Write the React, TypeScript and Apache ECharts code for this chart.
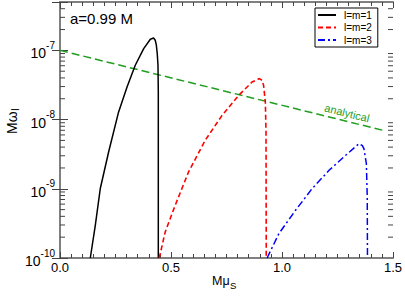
import React, { useEffect, useRef } from "react";
import * as echarts from "echarts";

const FONT = "'Liberation Sans', Arial, sans-serif";

// l=m=1 (black, solid)
const lm1: [number, number][] = [
  [0.1365, 1e-10], [0.159, 2.97e-10], [0.1815, 1.01e-9], [0.219, 3.4e-9],
  [0.264, 1.29e-8], [0.302, 2.96e-8], [0.339, 6.1e-8], [0.377, 1.06e-7],
  [0.407, 1.45e-7], [0.4216, 1.51e-7], [0.429, 1.4e-7], [0.434, 1.19e-7],
  [0.438, 9.0e-8], [0.4414, 6.1e-8], [0.4428, 2.5e-8], [0.4428, 1e-10],
];
// l=m=2 (red, dashed)
const lm2: [number, number][] = [
  [0.447, 1e-10], [0.474, 2.38e-10], [0.519, 5.78e-10], [0.579, 1.75e-9],
  [0.654, 5.02e-9], [0.73, 1.15e-8], [0.805, 2.24e-8], [0.865, 3.49e-8],
  [0.898, 3.91e-8], [0.91, 3.7e-8], [0.917, 3.13e-8], [0.925, 1.79e-8],
  [0.928, 6.6e-9], [0.929, 1e-10],
];
// l=m=3 (blue, dash-dot)
const lm3: [number, number][] = [
  [0.933, 1e-10], [0.986, 2.25e-10], [1.061, 4.89e-10], [1.136, 1.01e-9],
  [1.212, 1.85e-9], [1.287, 3.05e-9], [1.347, 4.5e-9], [1.362, 4.2e-9],
  [1.369, 3.81e-9], [1.38, 2.31e-9], [1.384, 7.6e-10], [1.385, 1e-10],
];
// analytical (green, dashed)
const analytical: [number, number][] = [[0, 1e-7], [1.455, 7e-9]];

const seriesNames = ["l=m=1", "l=m=2", "l=m=3"];
const xTicks = [0, 0.5, 1.0, 1.5];
const yDecades = [-10, -9, -8, -7];
const Y_MIN = 1e-10;
const Y_MAX = 5e-7;
const X_MIN = 0;
const X_MAX = 1.5;

// log minor tick positions (2..9 x 10^d)
const minorY: number[] = [];
for (const d of yDecades) {
  for (let k = 2; k <= 9; k++) {
    const v = k * Math.pow(10, d);
    if (v < Y_MAX) minorY.push(v);
  }
}

const AXIS_COLOR = "#808080";
const TICK_COLOR = "#444";

export default function App() {
  const ref = useRef<HTMLDivElement>(null);
  useEffect(() => {
    document.body.style.margin = "0";
    const chart = echarts.init(ref.current!, null, { renderer: "svg" });
    const yLabelFmt = (val: number) => {
      const e = Math.log10(val);
      const r = Math.round(e);
      if (Math.abs(e - r) > 1e-6 || !yDecades.includes(r)) return "";
      return `{b|10}{s|${r}}`;
    };
    const option: any = {
      animation: false,
      textStyle: { fontFamily: FONT },
      grid: { left: 60, right: 12, top: 2, bottom: 38, containLabel: false, outerBoundsMode: "none" },
      legend: {
        data: seriesNames,
        orient: "vertical",
        left: 315,
        top: 8,
        padding: [2, 6, 2, 2],
        itemGap: 2.5,
        itemWidth: 18,
        itemHeight: 11,
        itemStyle: { opacity: 0 },
        borderColor: "#000",
        borderWidth: 1,
        borderRadius: 0,
        backgroundColor: "#fff",
        textStyle: { fontSize: 10, fontFamily: FONT, color: "#000", padding: [0, 0, 0, 3] },
      },
      xAxis: [
        {
          type: "value",
          min: X_MIN,
          max: X_MAX,
          interval: 0.5,
          position: "bottom",
          axisLine: { show: true, lineStyle: { color: AXIS_COLOR, width: 2 } },
          axisTick: { show: true, inside: true, length: 6, lineStyle: { color: TICK_COLOR } },
          minorTick: { show: true, splitNumber: 10, length: 4, lineStyle: { color: TICK_COLOR } },
          splitLine: { show: false },
          axisLabel: {
            margin: 3,
            fontSize: 13,
            color: "#000",
            fontFamily: FONT,
            formatter: (v: number) => (xTicks.some((t) => Math.abs(t - v) < 1e-9) ? v.toFixed(1) : ""),
          },
        },
        {
          type: "value",
          min: X_MIN,
          max: X_MAX,
          interval: 0.5,
          position: "top",
          axisLine: { show: true, lineStyle: { color: AXIS_COLOR, width: 2 } },
          axisTick: { show: true, inside: true, length: 6, lineStyle: { color: TICK_COLOR } },
          minorTick: { show: true, splitNumber: 10, length: 4, lineStyle: { color: TICK_COLOR } },
          splitLine: { show: false },
          axisLabel: { show: false },
        },
      ],
      yAxis: [
        {
          type: "log",
          min: Y_MIN,
          max: Y_MAX,
          logBase: 10,
          position: "left",
          axisLine: { show: true, lineStyle: { color: AXIS_COLOR, width: 2 } },
          axisTick: { show: true, inside: true, length: 8, lineStyle: { color: TICK_COLOR } },
          splitLine: { show: false },
          axisLabel: {
            margin: 5,
            color: "#000",
            fontFamily: FONT,
            formatter: yLabelFmt,
            rich: {
              b: { fontSize: 14, fontFamily: FONT, color: "#000", padding: [6, 0, 0, 0] },
              s: { fontSize: 10, fontFamily: FONT, color: "#000", padding: [0, 0, 10, 0] },
            },
          },
        },
        {
          type: "log",
          min: Y_MIN,
          max: Y_MAX,
          logBase: 10,
          position: "right",
          axisLine: { show: true, lineStyle: { color: AXIS_COLOR, width: 2 } },
          axisTick: { show: true, inside: true, length: 8, lineStyle: { color: TICK_COLOR } },
          splitLine: { show: false },
          axisLabel: { show: false },
        },
      ],
      graphic: [
        {
          type: "text",
          left: 70,
          top: 11,
          style: { text: "a=0.99 M", fontSize: 15, fontFamily: FONT, fill: "#000" },
        },
        {
          type: "text",
          x: 347,
          y: 113,
          rotation: -0.245,
          style: {
            text: "analytical",
            fontSize: 11,
            fontFamily: FONT,
            fill: "#1f9e1f",
            align: "center",
            verticalAlign: "middle",
          },
        },
        {
          type: "text",
          x: 212,
          y: 274,
          style: { text: "Mμ", fontSize: 12.5, fontFamily: FONT, fill: "#000" },
        },
        {
          type: "text",
          x: 230,
          y: 280,
          style: { text: "S", fontSize: 9.5, fontFamily: FONT, fill: "#000" },
        },
        {
          type: "text",
          x: 5,
          y: 134,
          rotation: Math.PI / 2,
          style: { text: "Mω", fontSize: 14, fontFamily: FONT, fill: "#000" },
        },
        {
          type: "text",
          x: 10,
          y: 111,
          rotation: Math.PI / 2,
          style: { text: "I", fontSize: 10, fontFamily: FONT, fill: "#000" },
        },
      ],
      series: [
        {
          name: "l=m=1",
          type: "line",
          data: lm1,
          showSymbol: false,
          symbol: "none",
          lineStyle: { color: "#000", width: 1.5, type: "solid" },
          itemStyle: { color: "#000" },
          z: 3,
        },
        {
          name: "l=m=2",
          type: "line",
          data: lm2,
          showSymbol: false,
          symbol: "none",
          lineStyle: { color: "#ff0000", width: 1.6, type: [5, 3] },
          itemStyle: { color: "#ff0000" },
          z: 3,
        },
        {
          name: "l=m=3",
          type: "line",
          data: lm3,
          showSymbol: false,
          symbol: "none",
          lineStyle: { color: "#0000ff", width: 1.5, type: [7, 3, 2, 3] },
          itemStyle: { color: "#0000ff" },
          z: 3,
        },
        {
          name: "analytical",
          type: "line",
          data: analytical,
          showSymbol: false,
          symbol: "none",
          lineStyle: { color: "#1f9e1f", width: 1.5, type: [8, 4] },
          itemStyle: { color: "#1f9e1f" },
          z: 2,
        },
        {
          name: "minorY",
          type: "custom",
          silent: true,
          clip: false,
          data: minorY.map((v) => [X_MIN, v]),
          encode: { x: 0, y: 1 },
          renderItem: (params: any, api: any) => {
            const v = api.value(1);
            const pl = api.coord([X_MIN, v]);
            const pr = api.coord([X_MAX, v]);
            return {
              type: "group",
              children: [
                {
                  type: "line",
                  shape: { x1: pl[0], y1: pl[1], x2: pl[0] + 5, y2: pl[1] },
                  style: { stroke: TICK_COLOR, lineWidth: 1 },
                },
                {
                  type: "line",
                  shape: { x1: pr[0], y1: pr[1], x2: pr[0] - 5, y2: pr[1] },
                  style: { stroke: TICK_COLOR, lineWidth: 1 },
                },
              ],
            };
          },
          z: 4,
        },
      ],
    };
    chart.setOption(option);
    return () => chart.dispose();
  }, []);
  return (
    <div
      ref={ref}
      style={{ position: "absolute", left: 0, top: 0, width: 405, height: 296, background: "#fff" }}
    />
  );
}
